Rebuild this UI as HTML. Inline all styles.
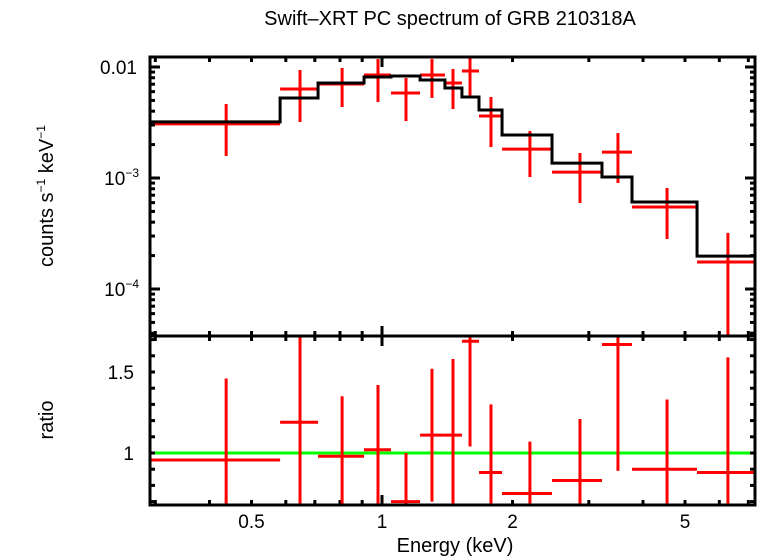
<!DOCTYPE html>
<html><head><meta charset="utf-8"><style>
html,body{margin:0;padding:0;background:#fff;}
svg{display:block;font-family:"Liberation Sans",sans-serif;}
</style></head><body>
<svg id="chart" width="758" height="556" viewBox="0 0 758 556" xmlns="http://www.w3.org/2000/svg">
<text x="450" y="25" font-size="20" text-anchor="middle">Swift–XRT PC spectrum of GRB 210318A</text>
<g id="topG"></g>
<g id="botG"></g>
<text transform="translate(53,196) rotate(-90)" font-size="20" text-anchor="middle">counts s<tspan font-size="12" dy="-8">−1</tspan><tspan dy="8"> keV</tspan><tspan font-size="12" dy="-8">−1</tspan></text>
<text transform="translate(53,420) rotate(-90)" font-size="20" text-anchor="middle">ratio</text>
<text x="455" y="552" font-size="20" text-anchor="middle">Energy (keV)</text>
</svg>
<script>
const binEdges=[0.292,0.582,0.712,0.909,1.049,1.224,1.397,1.529,1.674,1.892,2.467,3.217,3.773,5.33,7.33];
const binCenters=[0.437,0.647,0.809,0.979,1.136,1.304,1.458,1.596,1.784,2.194,2.862,3.502,4.545,6.28];
const counts=[3.07e-3,6.34e-3,7.03e-3,8.47e-3,5.83e-3,8.47e-3,7.17e-3,9.20e-3,3.62e-3,1.82e-3,1.13e-3,1.71e-3,5.48e-4,1.75e-4];
const countsHi=[4.64e-3,9.39e-3,9.79e-3,1.18e-2,7.96e-3,1.18e-2,9.59e-3,1.28e-2,5.37e-3,2.65e-3,1.68e-3,2.54e-3,8.13e-4,3.20e-4];
const countsLo=[1.58e-3,3.20e-3,4.36e-3,4.84e-3,3.26e-3,5.26e-3,4.18e-3,5.37e-3,1.90e-3,1.02e-3,5.96e-4,9.02e-4,2.82e-4,1e-5];
const model=[3.20e-3,5.26e-3,7.17e-3,8.13e-3,8.30e-3,7.63e-3,6.47e-3,5.37e-3,4.10e-3,2.44e-3,1.36e-3,1.02e-3,6.08e-4,1.98e-4];
const ratio=[0.957,1.19,0.98,1.02,0.70,1.11,1.11,1.69,0.88,0.75,0.83,1.67,0.90,0.88];
const ratioHi=[1.46,2.0,1.35,1.42,1.0,1.52,1.58,2.0,1.30,1.07,1.21,2.0,1.33,1.59];
const ratioLo=[0.5,0.5,0.5,0.5,0.5,0.70,0.5,1.04,0.5,0.5,0.5,0.89,0.5,0.5];
const xTickLabels=["0.5","1","2","5"];
const xTickVals=[0.5,1,2,5];
const ratioTickVals=[1,1.5];
const ratioTickLabels=["1","1.5"];

const NS="http://www.w3.org/2000/svg";
const L=150,R=755,T1=57,B1=336,T2=336,B2=505;
const xs=e=>382+433.5*Math.log10(e);
const ys=v=>67-111*Math.log10(v/0.01);
const yr=v=>453-162*(v-1);
function mk(p,tag,a){const e=document.createElementNS(NS,tag);for(const k in a)e.setAttribute(k,a[k]);p.appendChild(e);return e;}
const topG=document.getElementById('topG'),botG=document.getElementById('botG');

const defs=mk(document.getElementById('chart'),'defs',{});
const c1=mk(defs,'clipPath',{id:'c1'});mk(c1,'rect',{x:L,y:T1,width:R-L,height:B1-T1});
const c2=mk(defs,'clipPath',{id:'c2'});mk(c2,'rect',{x:L,y:T2,width:R-L,height:B2-T2});
const g1=mk(topG,'g',{'clip-path':'url(#c1)'});
const g2=mk(botG,'g',{'clip-path':'url(#c2)'});

for(let i=0;i<counts.length;i++){
  const h=mk(g1,'line',{x1:xs(binEdges[i]),x2:xs(binEdges[i+1]),y1:ys(counts[i]),y2:ys(counts[i]),stroke:'#f00','stroke-width':3});
  
  
  const v=mk(g1,'line',{x1:xs(binCenters[i]),x2:xs(binCenters[i]),y1:ys(countsHi[i]),y2:ys(countsLo[i]),stroke:'#f00','stroke-width':3});
  
  
}
let d='';
for(let i=0;i<model.length;i++){
  const x0=xs(binEdges[i]),x1=xs(binEdges[i+1]),y=ys(model[i]);
  d+=(i===0?'M':'L')+x0+','+y+'L'+x1+','+y;
}
const mp=mk(g1,'path',{d:d,fill:'none',stroke:'#000','stroke-width':3});



const gl=mk(g2,'line',{x1:L,x2:R,y1:yr(1),y2:yr(1),stroke:'#0f0','stroke-width':3});


for(let i=0;i<ratio.length;i++){
  const h=mk(g2,'line',{x1:xs(binEdges[i]),x2:xs(binEdges[i+1]),y1:yr(ratio[i]),y2:yr(ratio[i]),stroke:'#f00','stroke-width':3});
  
  
  const v=mk(g2,'line',{x1:xs(binCenters[i]),x2:xs(binCenters[i]),y1:yr(ratioHi[i]),y2:yr(ratioLo[i]),stroke:'#f00','stroke-width':3});
  
  
}

for(const [g,t,b] of [[topG,T1,B1],[botG,T2,B2]]){
  const f=mk(g,'rect',{x:L,y:t,width:R-L,height:b-t,fill:'none',stroke:'#000','stroke-width':3});
  
  
}
const xt=[0.3,0.4,0.5,0.6,0.7,0.8,0.9,1,2,3,4,5,6,7];
for(const e of xt){
  const x=xs(e);if(x<L||x>R)continue;
  const len=(e===1)?10:5;
  for(const [t,b] of [[T1,B1],[T2,B2]]){
    mk(topG,'line',{x1:x,x2:x,y1:t,y2:t+len,stroke:'#000','stroke-width':3});
    mk(topG,'line',{x1:x,x2:x,y1:b,y2:b-len,stroke:'#000','stroke-width':3});
  }
}
xTickVals.forEach((v,i)=>{
  const t=mk(botG,'text',{x:xs(v),y:528,'font-size':19,'text-anchor':'middle'});
  t.textContent=xTickLabels[i];
  
  
});
for(let dec=-5;dec<=-2;dec++){
  for(let m=1;m<10;m++){
    const v=m*Math.pow(10,dec);const y=ys(v);
    if(y<T1||y>B1)continue;
    const len=m===1?10:5;
    mk(topG,'line',{x1:L,x2:L+len,y1:y,y2:y,stroke:'#000','stroke-width':3});
    mk(topG,'line',{x1:R,x2:R-len,y1:y,y2:y,stroke:'#000','stroke-width':3});
  }
}
const yl=[[0.01,'0.01',null],[1e-3,'10','−3'],[1e-4,'10','−4']];
for(const [v,a,s] of yl){
  const t=mk(topG,'text',{x:137,y:ys(v)+7,'font-size':19,'text-anchor':'end'});
  
  
  if(s){t.setAttribute('x',139);t.textContent=a;const ts=mk(t,'tspan',{'font-size':12,dy:-8});ts.textContent=s;}
  else t.textContent=a;
}
for(let k=7;k<=17;k++){
  const v=k/10,y=yr(v);if(y<T2||y>B2)continue;
  mk(botG,'line',{x1:L,x2:L+5,y1:y,y2:y,stroke:'#000','stroke-width':3});
  mk(botG,'line',{x1:R,x2:R-5,y1:y,y2:y,stroke:'#000','stroke-width':3});
}
ratioTickVals.forEach((v,i)=>{
  const t=mk(botG,'text',{x:134,y:yr(v)+7,'font-size':19,'text-anchor':'end'});
  t.textContent=ratioTickLabels[i];
  
  
});
</script>
</body></html>
